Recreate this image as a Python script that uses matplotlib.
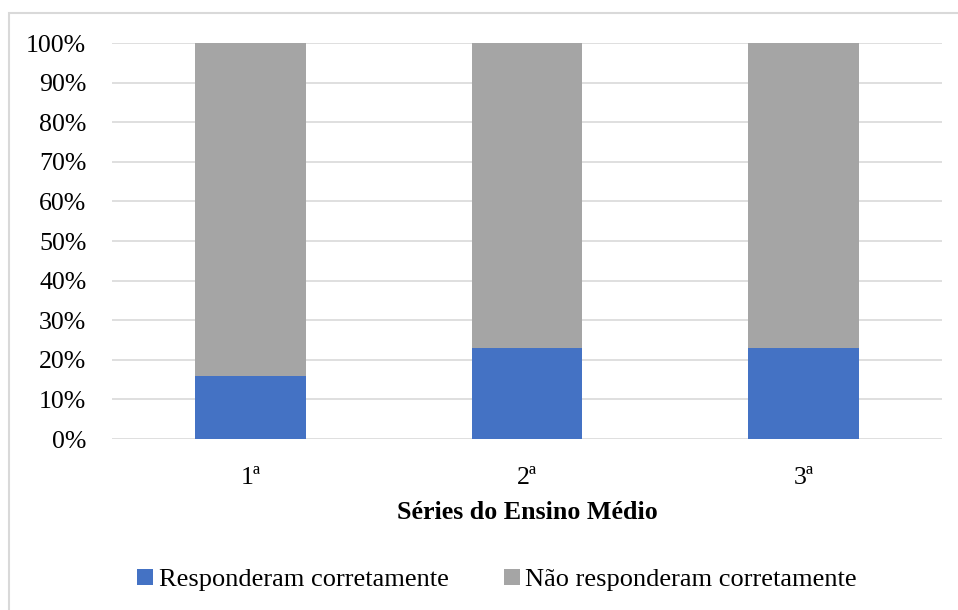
import matplotlib.pyplot as plt
from matplotlib.patches import Rectangle
from matplotlib.ticker import PercentFormatter

plt.rcParams['font.family'] = ['Liberation Serif', 'DejaVu Serif']

series = ['1ª', '2ª', '3ª']
corretas = [16, 23, 23]
incorretas = [100 - v for v in corretas]

fig = plt.figure(figsize=(9.58, 6.10), dpi=100)
ax = fig.add_axes([112/958, 1 - 439/610, 830/958, 396/610])

x = range(len(series))
ax.bar(x, corretas, width=0.4, color='#4472C4', label='Responderam corretamente', zorder=3)
ax.bar(x, incorretas, width=0.4, bottom=corretas, color='#A5A5A5',
       label='Não responderam corretamente', zorder=3)

ax.set_xlim(-0.5, 2.5)
ax.set_ylim(0, 100)
ax.set_yticks(range(0, 101, 10))
ax.yaxis.set_major_formatter(PercentFormatter(decimals=0))
ax.set_xticks(list(x))
ax.set_xticklabels(series)
ax.tick_params(length=0, labelsize=18.6, colors='#000000')
ax.tick_params(axis='x', pad=20)
ax.tick_params(axis='y', pad=18.5)
ax.grid(axis='y', color='#d9d9d9', linewidth=1.2, zorder=0)
for s in ax.spines.values():
    s.set_visible(False)

ax.set_xlabel('Séries do Ensino Médio', fontsize=18.7, fontweight='bold', labelpad=9)

fig.legend(loc='center', bbox_to_anchor=(497/958, 1 - 580/610), ncol=2, frameon=False,
           fontsize=19, handlelength=0.6, handleheight=0.6, handletextpad=0.2,
           columnspacing=2.1)

# outer chart border
fig.add_artist(Rectangle((9/958, -0.1), 1.0, 1 - 13/610 + 0.1, transform=fig.transFigure,
                         fill=False, edgecolor='#d9d9d9', linewidth=1.5, clip_on=False))

fig.savefig('out.png', dpi=100)
